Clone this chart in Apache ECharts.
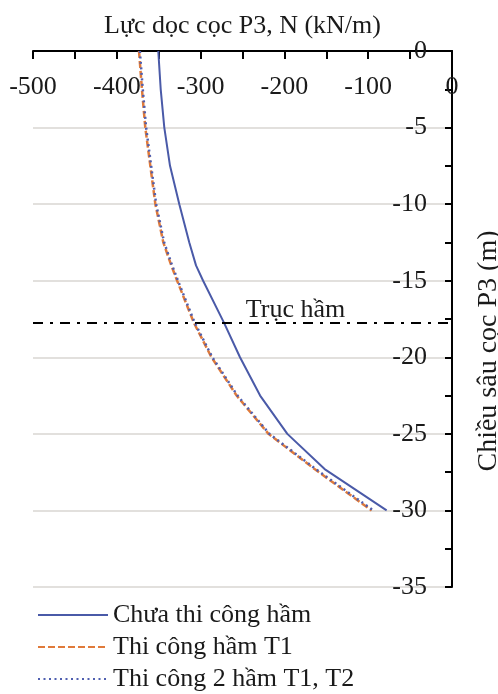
<!DOCTYPE html>
<html><head><meta charset="utf-8">
<script src="https://cdn.jsdelivr.net/npm/echarts@6/dist/echarts.min.js"></script>
<style>html,body{margin:0;padding:0;background:#fff}#c{width:498px;height:694px}</style>
</head><body><div id="c"></div>
<script>
const depths = [0, -2.5, -5, -7.5, -10, -12.5, -14, -15, -17.75, -20, -22.5, -25, -27.3, -30];
const seriesNames = ['Chưa thi công hầm', 'Thi công hầm T1', 'Thi công 2 hầm T1, T2'];
const nBefore = [-350.5, -347.6, -343.3, -336.5, -325.4, -313.5, -305.5, -297, -272, -253, -229, -196.5, -152, -78];
const nT1 = [-373.5, -370, -366, -360, -354, -344.5, -335, -328, -308, -287, -257, -219, -164, -96];
const nT1T2 = [-372.5, -369, -365, -359, -353, -343.5, -334, -327, -307, -286, -256, -218, -162.5, -94];
const tunnelAxis = -17.75;
const tunnelLabel = 'Trục hầm';
const xName = 'Lực dọc cọc P3, N (kN/m)';
const yName = 'Chiều sâu cọc P3 (m)';

const FONT = 'Liberation Serif';
const FS = 26;
const TXT = '#1a1a1a';
const pair = arr => arr.map((v, i) => [v, depths[i]]);

const chart = echarts.init(document.getElementById('c'));
chart.setOption({
  animation: false,
  backgroundColor: '#fff',
  textStyle: { fontFamily: FONT },
  grid: { left: 33, right: 46, top: 51, bottom: 107, containLabel: false, outerBoundsMode: 'none' },
  xAxis: {
    type: 'value', position: 'top', min: -500, max: 0, interval: 100,
    name: xName, nameLocation: 'middle', nameGap: 12,
    nameTextStyle: { fontFamily: FONT, fontSize: FS, color: TXT },
    axisLine: { show: true, onZero: false, lineStyle: { color: '#000', width: 2 } },
    axisTick: { show: true, inside: true, length: 8, lineStyle: { color: '#000', width: 2 } },
    minorTick: { show: true, splitNumber: 2, length: 8, lineStyle: { color: '#000', width: 2 } },
    axisLabel: { inside: true, margin: 23, fontFamily: FONT, fontSize: FS, color: TXT, showMinLabel: true, showMaxLabel: true },
    splitLine: { show: false }
  },
  yAxis: {
    type: 'value', position: 'right', min: -35, max: 0, interval: 5,
    name: yName, nameLocation: 'middle', nameGap: 23, nameRotate: 90,
    nameTextStyle: { fontFamily: FONT, fontSize: 28, color: TXT, padding: [0, 64, 0, 0] },
    axisLine: { show: true, onZero: false, lineStyle: { color: '#000', width: 2 } },
    axisTick: { show: true, inside: true, length: 7, lineStyle: { color: '#000', width: 2 } },
    minorTick: { show: true, splitNumber: 2, length: 7, lineStyle: { color: '#000', width: 2 } },
    axisLabel: { inside: true, margin: 25, fontFamily: FONT, fontSize: FS, color: TXT, showMinLabel: true, showMaxLabel: true },
    splitLine: { show: true, lineStyle: { color: '#d9d6d2', width: 1.5 } }
  },
  legend: {
    orient: 'vertical', left: 37, top: 602, padding: 0, itemWidth: 70, itemHeight: 14, itemGap: 6,
    itemStyle: { opacity: 0 },
    textStyle: { fontFamily: FONT, fontSize: FS, color: TXT },
    data: seriesNames
  },
  series: [
    {
      name: seriesNames[0], type: 'line', data: pair(nBefore), symbol: 'none',
      lineStyle: { color: '#4a5aa8', width: 2 }, itemStyle: { color: '#4a5aa8' }, z: 3,
      markLine: {
        silent: true, symbol: 'none',
        lineStyle: { color: '#000', width: 2, type: [10, 7, 3, 7] },
        label: { show: true, position: 'middle', formatter: tunnelLabel, fontFamily: FONT, fontSize: FS, color: TXT, distance: 0, offset: [53, 0] },
        data: [{ yAxis: tunnelAxis }]
      }
    },
    {
      name: seriesNames[1], type: 'line', data: pair(nT1), symbol: 'none',
      lineStyle: { color: '#e07a3a', width: 2.5, type: [7, 3] }, itemStyle: { color: '#e07a3a' }, z: 4
    },
    {
      name: seriesNames[2], type: 'line', data: pair(nT1T2), symbol: 'none',
      lineStyle: { color: '#4f5fb0', width: 2.5, type: [2, 3.5] }, itemStyle: { color: '#4f5fb0' }, z: 5
    }
  ]
});
</script></body></html>
